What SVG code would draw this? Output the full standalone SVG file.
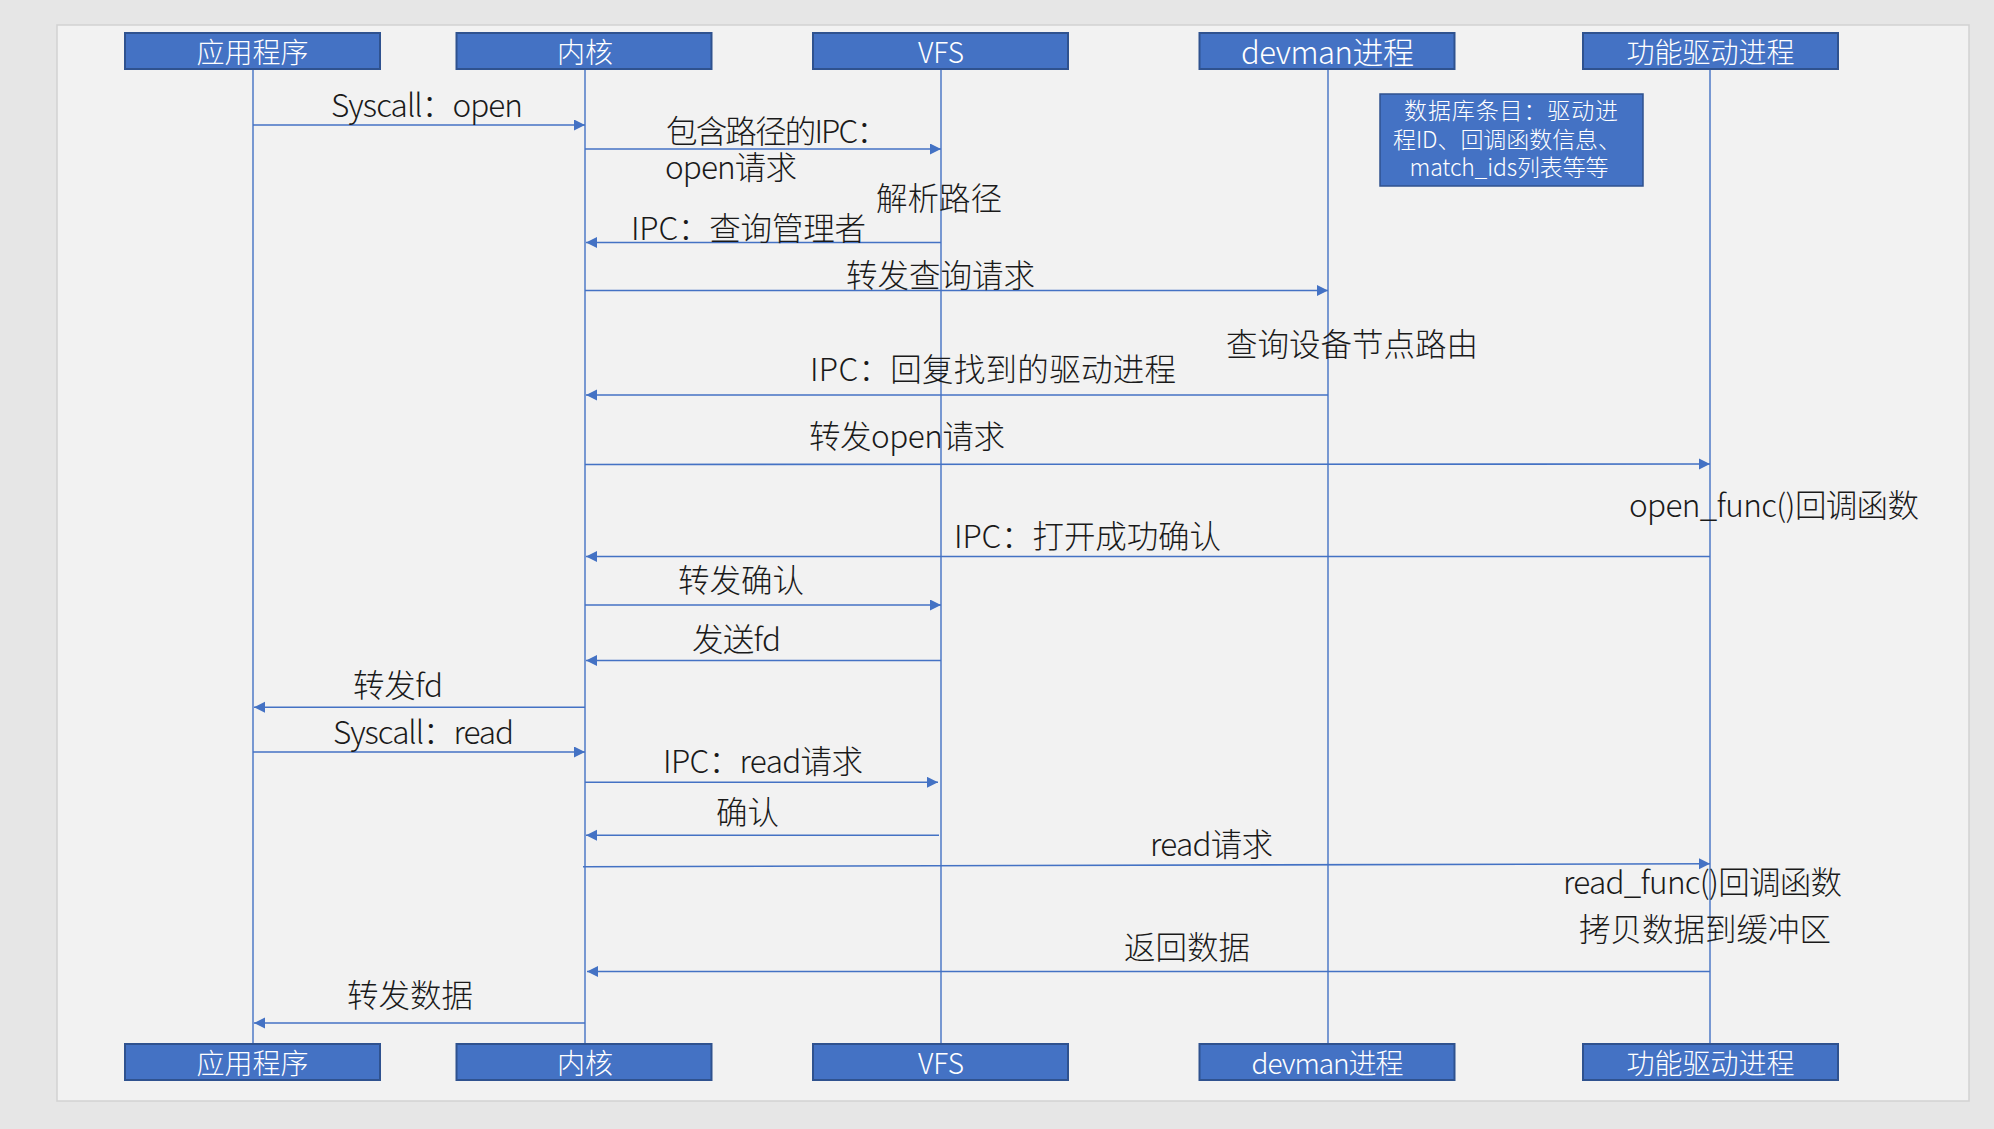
<svg xmlns="http://www.w3.org/2000/svg" width="1994" height="1129" viewBox="0 0 1994 1129">
<style>
.box{fill:#4472C4;stroke:#2F528F;stroke-width:2}
.bt{fill:#ffffff;font-family:"Noto Sans CJK SC","Liberation Sans",sans-serif;font-size:28px;font-weight:300;text-anchor:middle}
.life{stroke:#4472C4;stroke-width:1.4;fill:none}
.msg{stroke:#4472C4;stroke-width:1.6;fill:none}
.arr{marker-end:url(#ah)}
.lbl{fill:#1a1a1a;font-family:"Noto Sans CJK SC","Liberation Sans",sans-serif;font-size:31.5px;font-weight:300}
.nt{fill:#ffffff;font-family:"Noto Sans CJK SC","Liberation Sans",sans-serif;font-size:23px;font-weight:300;text-anchor:middle}
</style>
<defs>
<marker id="ah" markerUnits="userSpaceOnUse" markerWidth="12" markerHeight="12" refX="11" refY="5.5" orient="auto">
<path d="M0,0 L11,5.5 L0,11 z" fill="#4472C4"/>
</marker>
</defs>
<rect x="0" y="0" width="1994" height="1129" fill="#e6e6e6"/>
<rect x="57" y="25" width="1912" height="1076" fill="#f2f2f2" stroke="#d2d2d2" stroke-width="1.5"/>

<g id="lifelines">
<line class="life" x1="253" y1="69" x2="253" y2="1044"/>
<line class="life" x1="585" y1="69" x2="585" y2="1044"/>
<line class="life" x1="941" y1="69" x2="941" y2="1044"/>
<line class="life" x1="1328" y1="69" x2="1328" y2="1044"/>
<line class="life" x1="1710" y1="69" x2="1710" y2="1044"/>
</g>

<g id="node-app">
<rect class="box" x="125" y="33" width="255" height="36"/>
<text class="bt" x="252.5" y="63">应用程序</text>
<rect class="box" x="125" y="1044" width="255" height="36"/>
<text class="bt" x="252.5" y="1074">应用程序</text>
</g>
<g id="node-kernel">
<rect class="box" x="456.5" y="33" width="255" height="36"/>
<text class="bt" x="585" y="63">内核</text>
<rect class="box" x="456.5" y="1044" width="255" height="36"/>
<text class="bt" x="585" y="1074">内核</text>
</g>
<g id="node-vfs">
<rect class="box" x="813" y="33" width="255" height="36"/>
<text class="bt" x="941" y="63">VFS</text>
<rect class="box" x="813" y="1044" width="255" height="36"/>
<text class="bt" x="941" y="1074">VFS</text>
</g>
<g id="node-devman">
<rect class="box" x="1199.5" y="33" width="255" height="36"/>
<text class="bt" x="1327.5" y="64" style="font-size:31px" textLength="173">devman进程</text>
<rect class="box" x="1199.5" y="1044" width="255" height="36"/>
<text class="bt" x="1327.5" y="1074" textLength="152">devman进程</text>
</g>
<g id="node-driver">
<rect class="box" x="1583" y="33" width="255" height="36"/>
<text class="bt" x="1710.5" y="63">功能驱动进程</text>
<rect class="box" x="1583" y="1044" width="255" height="36"/>
<text class="bt" x="1710.5" y="1074">功能驱动进程</text>
</g>

<g id="note-db">
<rect x="1380" y="94" width="263" height="92" fill="#4472C4" stroke="#2F528F" stroke-width="1.5"/>
<text class="nt" x="1511" y="119" textLength="214">数据库条目：驱动进</text>
<text class="nt" x="1507" y="147.5" textLength="228">程ID、回调函数信息、</text>
<text class="nt" x="1509" y="176" textLength="199">match_ids列表等等</text>
</g>

<g id="connectors">
<line class="msg arr" x1="253" y1="125" x2="585" y2="125"/>
<line class="msg arr" x1="585" y1="149" x2="941" y2="149"/>
<line class="msg arr" x1="941" y1="242.5" x2="586" y2="242.5"/>
<line class="msg arr" x1="585" y1="290.5" x2="1328" y2="290.5"/>
<line class="msg arr" x1="1328" y1="395" x2="586" y2="395"/>
<line class="msg arr" x1="585" y1="464.5" x2="1710" y2="464"/>
<line class="msg arr" x1="1710" y1="556.5" x2="586" y2="556.5"/>
<line class="msg arr" x1="585" y1="605" x2="941" y2="605"/>
<line class="msg arr" x1="941" y1="660.5" x2="586" y2="660.5"/>
<line class="msg arr" x1="585" y1="707.3" x2="254" y2="707.3"/>
<line class="msg arr" x1="253" y1="752" x2="585" y2="752"/>
<line class="msg arr" x1="585" y1="782.3" x2="938" y2="782.3"/>
<line class="msg arr" x1="939" y1="835.3" x2="586" y2="835.3"/>
<line class="msg arr" x1="583" y1="866.7" x2="1710" y2="863.7"/>
<line class="msg arr" x1="1710" y1="971.5" x2="587" y2="971.5"/>
<line class="msg arr" x1="585" y1="1023" x2="254" y2="1023"/>
</g>

<g id="labels">
<text class="lbl" x="331" y="117" textLength="192">Syscall：open</text>
<text class="lbl" x="666" y="143" textLength="222">包含路径的IPC：</text>
<text class="lbl" x="665" y="179" textLength="132">open请求</text>
<text class="lbl" x="876" y="210">解析路径</text>
<text class="lbl" x="631" y="240" textLength="235">IPC：查询管理者</text>
<text class="lbl" x="846" y="287">转发查询请求</text>
<text class="lbl" x="1226" y="356">查询设备节点路由</text>
<text class="lbl" x="810" y="381" textLength="366">IPC：回复找到的驱动进程</text>
<text class="lbl" x="809" y="448" textLength="196">转发open请求</text>
<text class="lbl" x="1629" y="517" textLength="290">open_func()回调函数</text>
<text class="lbl" x="954" y="548" textLength="267">IPC：打开成功确认</text>
<text class="lbl" x="678" y="592">转发确认</text>
<text class="lbl" x="692" y="651" textLength="89">发送fd</text>
<text class="lbl" x="353" y="697" textLength="90">转发fd</text>
<text class="lbl" x="333" y="744" textLength="181">Syscall：read</text>
<text class="lbl" x="663" y="773" textLength="200">IPC：read请求</text>
<text class="lbl" x="716" y="824">确认</text>
<text class="lbl" x="1150" y="856" textLength="123">read请求</text>
<text class="lbl" x="1563" y="894" textLength="279">read_func()回调函数</text>
<text class="lbl" x="1579" y="941">拷贝数据到缓冲区</text>
<text class="lbl" x="1124" y="959">返回数据</text>
<text class="lbl" x="347" y="1007">转发数据</text>
</g>
</svg>
